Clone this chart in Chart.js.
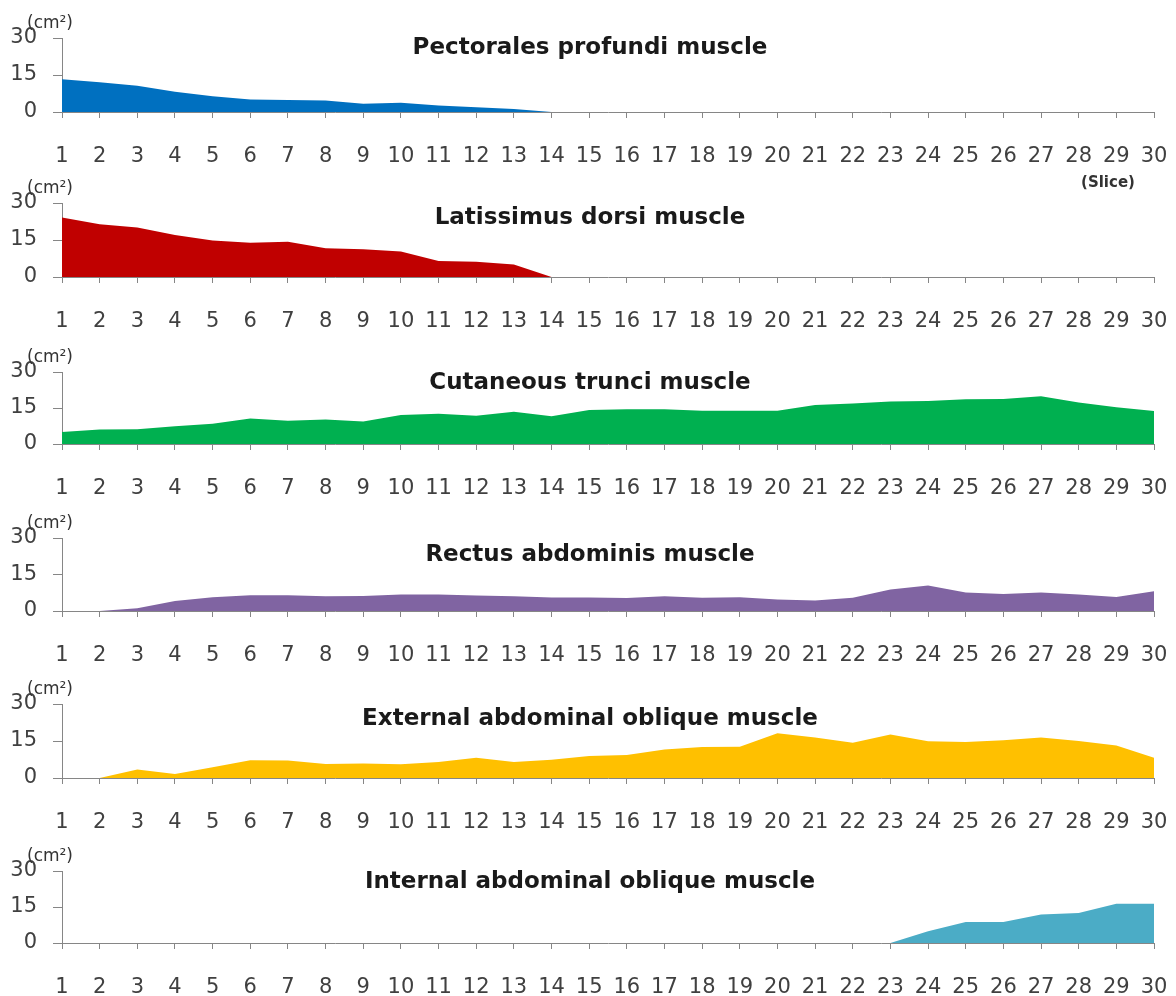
<!DOCTYPE html>
<html>
<head>
<meta charset="utf-8">
<script src="https://cdn.jsdelivr.net/npm/chart.js@4"></script>
<style>
html, body { margin: 0; padding: 0; background: #fff; overflow: hidden; }
.panel { position: absolute; left: 0; width: 1176px; }
</style>
</head>
<body>
<div id="wrap"></div>
<script>
// slice numbers along the x axis
var slices = ['1','2','3','4','5','6','7','8','9','10','11','12','13','14','15',
              '16','17','18','19','20','21','22','23','24','25','26','27','28','29','30'];
var yTickValues = [0, 15, 30];
var unitLabel = '(cm\u00B2)';
var sliceLabel = '(Slice)';

// muscle areas (cm2) per slice
var pectoralesProfundi = [13.3, 12.1, 10.6, 8.2, 6.4, 5.1, 4.9, 4.7, 3.3, 3.8, 2.6, 1.9, 1.2, 0,
                          0, 0, 0, 0, 0, 0, 0, 0, 0, 0, 0, 0, 0, 0, 0, 0];
var latissimusDorsi = [24.1, 21.4, 20.1, 17.0, 14.8, 13.9, 14.3, 11.7, 11.2, 10.3, 6.5, 6.2, 5.1, 0,
                       0, 0, 0, 0, 0, 0, 0, 0, 0, 0, 0, 0, 0, 0, 0, 0];
var cutaneousTrunci = [5.0, 6.0, 6.1, 7.4, 8.4, 10.6, 9.7, 10.2, 9.4, 12.1, 12.6, 11.8, 13.4, 11.6, 14.2,
                       14.5, 14.5, 13.9, 13.9, 13.9, 16.3, 16.9, 17.7, 17.9, 18.6, 18.7, 19.9, 17.3, 15.3, 13.7];
var rectusAbdominis = [0, 0, 1.1, 4.1, 5.7, 6.5, 6.5, 6.1, 6.2, 6.8, 6.8, 6.4, 6.1, 5.5, 5.5,
                       5.3, 6.1, 5.4, 5.7, 4.7, 4.3, 5.4, 8.8, 10.5, 7.6, 7.0, 7.6, 6.8, 5.8, 8.1];
var externalOblique = [0, 0, 3.4, 1.6, 4.4, 7.2, 7.1, 5.7, 5.9, 5.6, 6.5, 8.2, 6.5, 7.4, 8.9,
                       9.3, 11.6, 12.6, 12.7, 18.1, 16.4, 14.3, 17.6, 14.9, 14.6, 15.3, 16.4, 15.0, 13.2, 8.2];
var internalOblique = [0, 0, 0, 0, 0, 0, 0, 0, 0, 0, 0, 0, 0, 0, 0,
                       0, 0, 0, 0, 0, 0, 0, 0, 4.9, 8.8, 8.8, 11.9, 12.5, 16.4, 16.4];

var titles = ['Pectorales profundi muscle', 'Latissimus dorsi muscle', 'Cutaneous trunci muscle',
              'Rectus abdominis muscle', 'External abdominal oblique muscle', 'Internal abdominal oblique muscle'];
var seriesList = [pectoralesProfundi, latissimusDorsi, cutaneousTrunci, rectusAbdominis, externalOblique, internalOblique];
var colors = ['#0070C0', '#C00000', '#00B050', '#8064A2', '#FFC000', '#4BACC6'];

// layout of each panel (page y of the 30 tick and of the 0 axis)
var topLines = [38, 203, 372, 538, 704, 871];
var zeroLines = [112, 277, 444, 611, 778, 943];
var titleDy = [10, 15, 11, 17, 15, 11];

Chart.defaults.font.family = '"DejaVu Sans", sans-serif';

var panelText = {
    id: 'panelText',
    afterDraw: function(chart, args, opts) {
        var ctx = chart.ctx;
        var area = chart.chartArea;
        ctx.save();
        ctx.textAlign = 'center';
        ctx.textBaseline = 'middle';
        ctx.fillStyle = '#1a1a1a';
        ctx.font = 'bold 23px "DejaVu Sans"';
        ctx.fillText(opts.title, chart.width / 2 + 2, area.top + opts.titleDy);
        ctx.fillStyle = '#333';
        ctx.font = '17px "DejaVu Sans"';
        ctx.fillText(unitLabel, 50, area.top - 14);
        if (opts.showSlice) {
            ctx.font = 'bold 15px "DejaVu Sans"';
            ctx.fillText(sliceLabel, 1108, area.bottom + 71);
        }
        ctx.restore();
    }
};

function drawPanel(i) {
    var plotH = zeroLines[i] - topLines[i];
    var axisH = (i == 0) ? 82 : 58;
    var div = document.createElement('div');
    div.className = 'panel';
    div.style.top = (topLines[i] - 30) + 'px';
    div.style.height = (30 + plotH + axisH) + 'px';
    var canvas = document.createElement('canvas');
    div.appendChild(canvas);
    document.getElementById('wrap').appendChild(div);

    var config = {
        type: 'line',
        data: {
            labels: slices,
            datasets: [{
                data: seriesList[i],
                fill: 'origin',
                backgroundColor: colors[i],
                borderWidth: 0,
                pointRadius: 0,
                tension: 0
            }]
        },
        options: {
            animation: false,
            responsive: true,
            maintainAspectRatio: false,
            layout: { padding: { top: 30, right: 22, left: 0, bottom: 0 } },
            scales: {
                x: {
                    offset: false,
                    grid: { drawOnChartArea: false, drawTicks: true, tickLength: 6, color: '#868686' },
                    border: { color: '#868686', width: 1 },
                    ticks: { color: '#404040', font: { size: 21 }, padding: 26, autoSkip: false, maxRotation: 0 },
                    afterFit: function(s) {
                        s.height = axisH;
                        s.paddingLeft = 0;
                        s.paddingRight = 0;
                    }
                },
                y: {
                    min: 0,
                    max: 30,
                    afterBuildTicks: function(s) { s.ticks = yTickValues.map(function(v) { return { value: v }; }); },
                    grid: { drawOnChartArea: false, drawTicks: true, tickLength: 9, color: '#868686' },
                    border: { color: '#868686', width: 1 },
                    ticks: { color: '#404040', font: { size: 21 }, padding: 16 },
                    afterFit: function(s) { s.width = 62; }
                }
            },
            plugins: {
                legend: { display: false },
                tooltip: { enabled: false },
                panelText: { title: titles[i], titleDy: titleDy[i], showSlice: i == 0 }
            }
        },
        plugins: [panelText]
    };
    new Chart(canvas.getContext('2d'), config);
}

for (var i = 0; i < seriesList.length; i++) {
    drawPanel(i);
}
</script>
</body>
</html>
